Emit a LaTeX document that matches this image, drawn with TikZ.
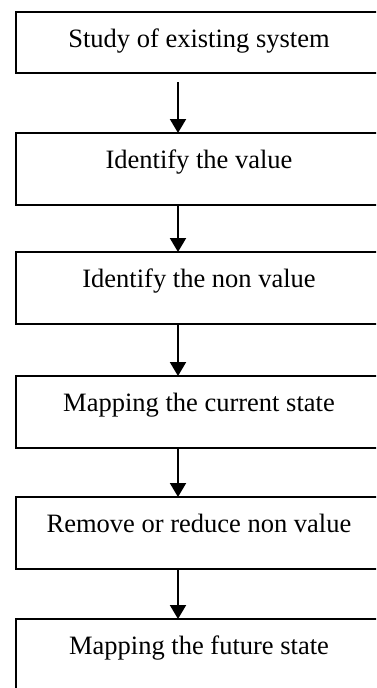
\documentclass[tikz,border=0pt]{standalone}
\usepackage{fontspec}
\setmainfont{Liberation Serif}
\usetikzlibrary{arrows.meta}
\newcommand{\Edge}{1.8pt}
\newcommand{\StageW}{366pt}
\newcommand{\stagefont}{\fontsize{26.5}{30}\selectfont}

\begin{document}
\begin{tikzpicture}[x=1pt,y=-1pt, line join=miter,
  stage/.style={draw, line width=\Edge, minimum width=\StageW,
    inner xsep=0pt, inner ysep=0pt, outer sep=0pt,
    text height=35pt, text depth=37pt, anchor=north, font=\stagefont},
  flow/.style={line width=2pt, -{Triangle[width=16pt,length=14pt]}}]

  \useasboundingbox (0,0) rectangle (376,688);
  \clip (0,0) rectangle (376,688);

  % ---- the stages, one under the other -----------------------------------
  \node[stage, text depth=26pt] (study)   at (199,12)  {Study of existing system};
  \node[stage] (value)   at (199,133) {Identify the value};
  \node[stage] (nonval)  at (199,252) {Identify the non value};
  \node[stage] (current) at (199,376) {Mapping the current state};
  \node[stage] (reduce)  at (199,497) {Remove or reduce non value};
  \node[stage] (future)  at (199,619) {Mapping the future state};

  % ---- arrows run left of centre, as in the sketch -----------------------
  \coordinate (ax) at (178,0);
  \draw[flow, shorten <=9pt] (study.south -| ax) -- (value.north -| ax);
  \draw[flow] (value.south -| ax)   -- (nonval.north -| ax);
  \draw[flow] (nonval.south -| ax)  -- (current.north -| ax);
  \draw[flow] (current.south -| ax) -- (reduce.north -| ax);
  \draw[flow] (reduce.south -| ax)  -- (future.north -| ax);

\end{tikzpicture}
\end{document}
